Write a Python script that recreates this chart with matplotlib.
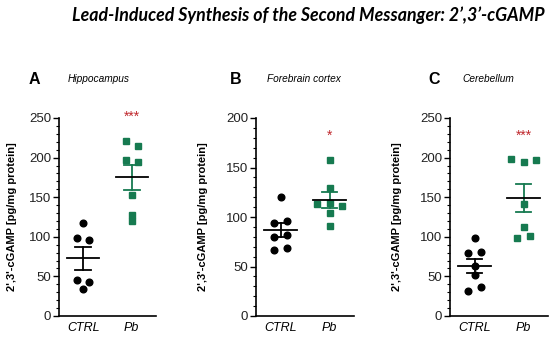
import numpy as np
import matplotlib
matplotlib.use('Agg')
from matplotlib import pyplot as plt
from matplotlib.ticker import MultipleLocator

plt.rcParams['font.family'] = ['Liberation Sans', 'DejaVu Sans']

groups = ['CTRL', 'Pb']

# Hippocampus
hip_ctrl = [118, 99, 96, 46, 43, 34]
hip_ctrl_dx = [0, -1, 1, -1, 1, 0]
hip_pb = [221, 215, 197, 195, 153, 127, 120]
hip_pb_dx = [-1, 1, -1, 1, 0, 0, 0]

# Forebrain cortex
ctx_ctrl = [120, 96, 94, 82, 80, 69, 67]
ctx_ctrl_dx = [0, 1, -1, 1, -1, 1, -1]
ctx_pb = [158, 129, 114, 113, 111, 104, 91]
ctx_pb_dx = [0, 0, 0, -2, 2, 0, 0]

# Cerebellum
cer_ctrl = [98, 81, 80, 63, 52, 37, 32]
cer_ctrl_dx = [0, 1, -1, 0, 0, 1, -1]
cer_pb = [198, 197, 194, 141, 113, 101, 99]
cer_pb_dx = [-2, 2, 0, 0, 0, 1, -1]

panels = [
    ('A', 'Hippocampus', hip_ctrl, hip_ctrl_dx, hip_pb, hip_pb_dx, 250, '***', 251),
    ('B', 'Forebrain cortex', ctx_ctrl, ctx_ctrl_dx, ctx_pb, ctx_pb_dx, 200, '*', 182),
    ('C', 'Cerebellum', cer_ctrl, cer_ctrl_dx, cer_pb, cer_pb_dx, 250, '***', 227),
]

green = '#167a50'
red = '#c0282d'

fig = plt.figure(figsize=(5.5, 3.37), dpi=100)
W, H = 550.0, 337.0

# axes pixel boxes (left, right)
boxes = [(59, 156), (256, 354), (450, 548)]
ylab_x = [12, 203, 397]
letter_x = [29, 230, 428]
name_x = [68, 267, 462]

fig.text(545 / W, 1 - 15 / H, 'Lead-Induced Synthesis of the Second Messanger: 2\u2019,3\u2019-cGAMP',
         family=['Lato', 'DejaVu Sans'], fontsize=12.8, fontweight='bold', fontstyle='italic',
         ha='right', va='center')

for i, (letter, name, ctrl, cdx, pb, pdx, ymax, stars, star_y) in enumerate(panels):
    l, r = boxes[i]
    ax = fig.add_axes([l / W, 21 / H, (r - l) / W, 198 / H])
    jit = 0.125
    ax.plot(np.array(cdx) * jit, ctrl, 'o', color='black', ms=4.8, zorder=3)
    ax.plot(1 + np.array(pdx) * jit, pb, 's', color=green, ms=4.4, zorder=3)
    for x, vals, col in [(0, ctrl, 'black'), (1, pb, green)]:
        m = np.mean(vals)
        sem = np.std(vals, ddof=1) / np.sqrt(len(vals))
        ax.plot([x, x], [m - sem, m + sem], color=col, lw=1.3, zorder=4)
        ax.plot([x - 0.16, x + 0.16], [m - sem] * 2, color=col, lw=1.3, zorder=4)
        ax.plot([x - 0.16, x + 0.16], [m + sem] * 2, color=col, lw=1.3, zorder=4)
        ax.plot([x - 0.33, x + 0.33], [m, m], color='black', lw=1.3, zorder=5)
    ax.text(1, star_y, stars, color=red, fontsize=10, ha='center', va='center')
    ax.set_xlim(-0.5, 1.5)
    ax.set_ylim(0, ymax)
    ax.yaxis.set_major_locator(MultipleLocator(50))
    ax.yaxis.set_minor_locator(MultipleLocator(10))
    ax.set_xticks([0, 1])
    ax.set_xticklabels(groups, fontstyle='italic', fontsize=9)
    ax.tick_params(axis='x', length=0, pad=4)
    ax.tick_params(axis='y', which='major', length=4, width=1, labelsize=9.5, pad=1.5,
                   labelcolor='#222222')
    ax.tick_params(axis='y', which='minor', length=2, width=0.8)
    for s in ['top', 'right']:
        ax.spines[s].set_visible(False)
    for s in ['left', 'bottom']:
        ax.spines[s].set_linewidth(1.2)
    ax.patch.set_alpha(0)

    fig.text(ylab_x[i] / W, 1 - 217 / H, "2',3'-cGAMP [pg/mg protein]", rotation=90,
             fontsize=8, fontweight='bold', ha='center', va='center')
    fig.text(letter_x[i] / W, 1 - 80 / H, letter, fontsize=11.5, fontweight='bold',
             ha='left', va='center')
    fig.text(name_x[i] / W, 1 - 79 / H, name, fontsize=7.3, fontstyle='italic',
             ha='left', va='center')

fig.savefig('out.png', dpi=100)
